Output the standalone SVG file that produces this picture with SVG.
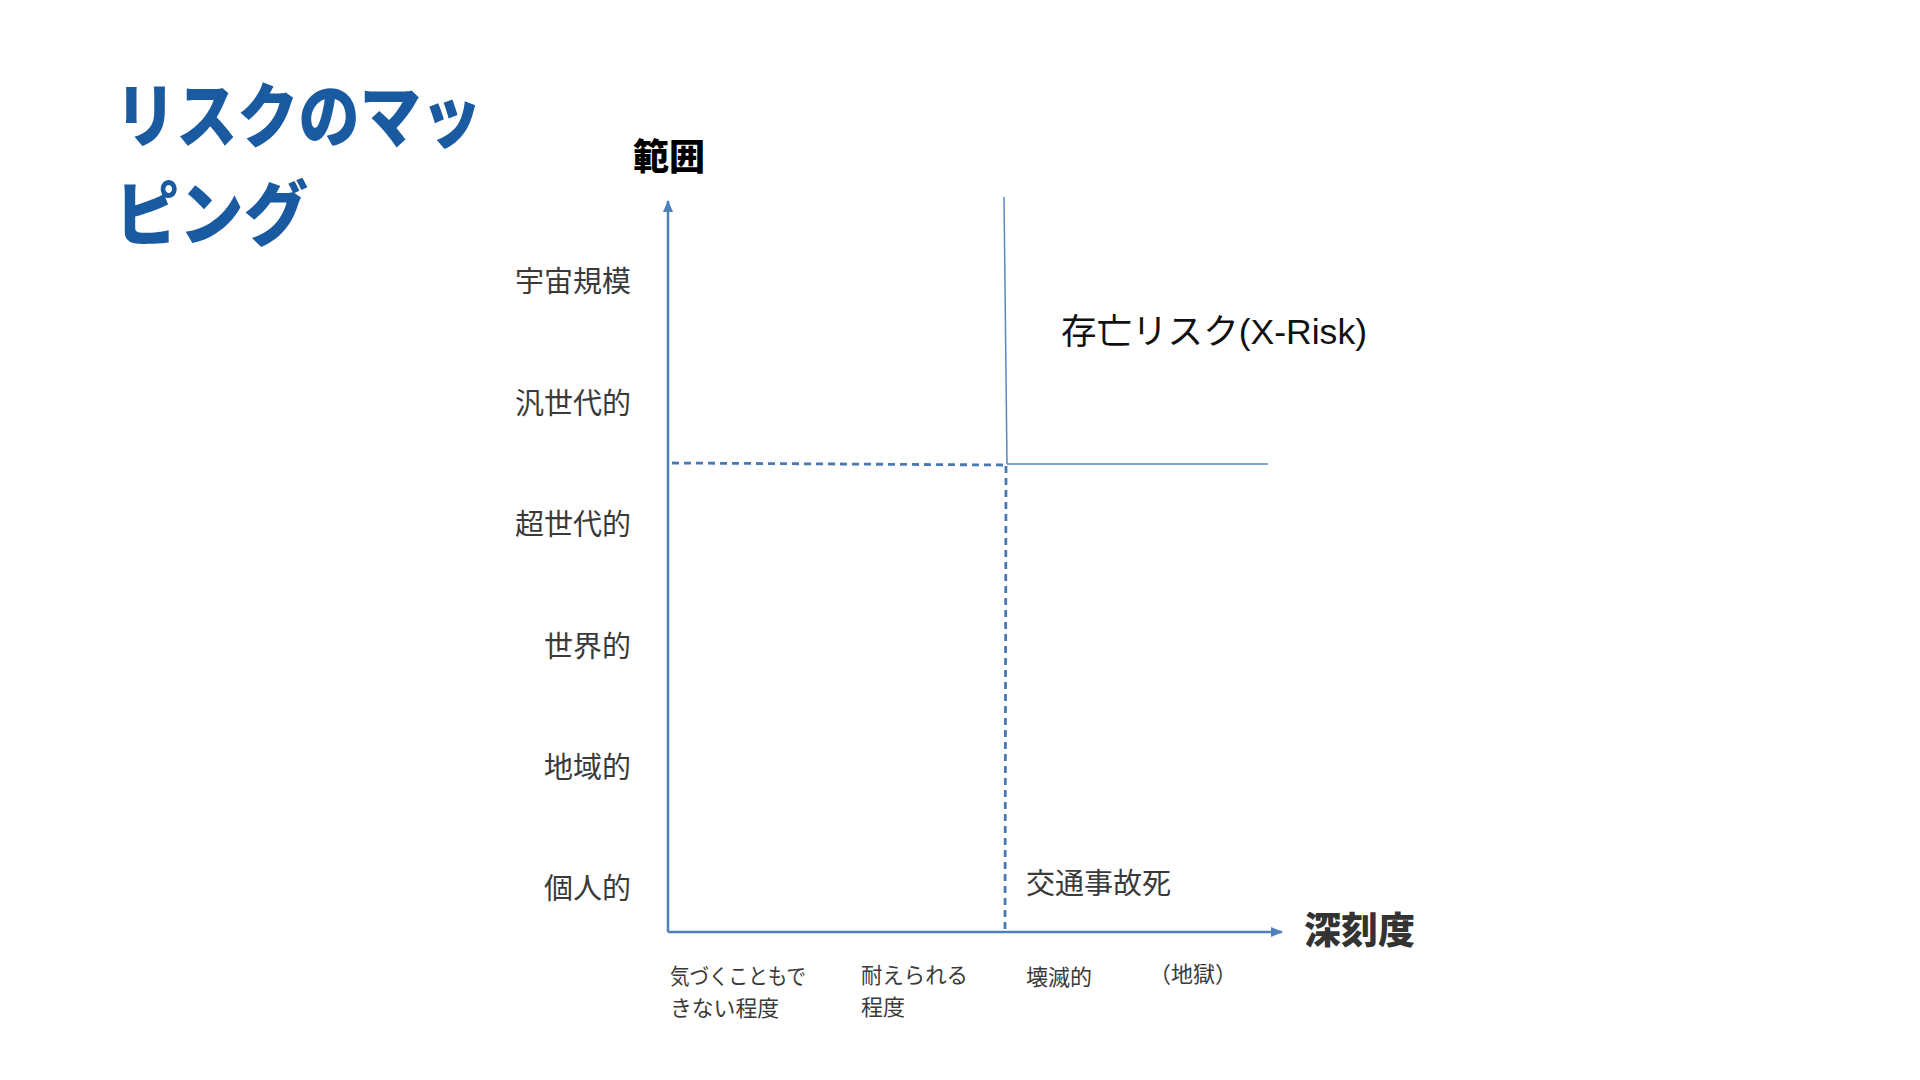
<svg xmlns="http://www.w3.org/2000/svg" width="1920" height="1080" viewBox="0 0 1920 1080">
<style>
text { font-family: "Liberation Sans", "Noto Sans CJK JP", sans-serif; }
.title { font-family: "Noto Sans CJK JP", sans-serif; font-size: 70px; font-weight: 900; fill: #1a5aa0; }
.axisname { font-family: "Noto Sans CJK JP", sans-serif; font-weight: 900; }
.lbl { font-family: "Noto Sans CJK JP", sans-serif; font-size: 29px; fill: #3a3a3a; }
.sm { font-family: "Noto Sans CJK JP", sans-serif; font-size: 22px; fill: #3a3a3a; }
.axis { stroke: #4f81bd; stroke-width: 2.5; fill: none; }
.thin { stroke: #5b87c0; stroke-width: 1.5; fill: none; }
.dash { stroke: #4a78b2; stroke-width: 2.8; stroke-dasharray: 7 5; fill: none; }
</style>
<defs>
<marker id="arr" viewBox="0 0 12 10" refX="11" refY="5" markerWidth="13" markerHeight="10" markerUnits="userSpaceOnUse" orient="auto">
<path d="M0,0 L12,5 L0,10 Z" fill="#4f81bd"/>
</marker>
</defs>
<rect width="1920" height="1080" fill="#ffffff"/>

<g id="title">
<text class="title" x="115" y="142" textLength="367" lengthAdjust="spacingAndGlyphs">リスクのマッ</text>
<text class="title" x="115" y="240" textLength="193" lengthAdjust="spacingAndGlyphs">ピング</text>
</g>

<g id="connectors">
<line class="axis" x1="668" y1="932" x2="668" y2="201" marker-end="url(#arr)"/>
<line class="axis" x1="668" y1="932" x2="1282" y2="932" marker-end="url(#arr)"/>
<line class="thin" x1="1004" y1="197" x2="1007" y2="464"/>
<line class="thin" x1="1007" y1="464" x2="1268" y2="464"/>
<line class="dash" x1="672" y1="463" x2="1005" y2="465"/>
<line class="dash" x1="1006" y1="466" x2="1005" y2="932"/>
</g>

<g id="y-axis-title">
<text class="axisname" x="633" y="170" font-size="36" fill="#000000">範囲</text>
</g>
<g id="x-axis-title">
<text class="axisname" x="1304" y="944" font-size="37" fill="#333333">深刻度</text>
</g>

<g id="y-labels">
<text class="lbl" x="631" y="292" text-anchor="end">宇宙規模</text>
<text class="lbl" x="631" y="414" text-anchor="end">汎世代的</text>
<text class="lbl" x="631" y="535" text-anchor="end">超世代的</text>
<text class="lbl" x="631" y="657" text-anchor="end">世界的</text>
<text class="lbl" x="631" y="778" text-anchor="end">地域的</text>
<text class="lbl" x="631" y="899" text-anchor="end">個人的</text>
</g>

<g id="x-labels">
<text class="sm" x="670" y="984" textLength="136" lengthAdjust="spacingAndGlyphs">気づくこともで</text>
<text class="sm" x="670" y="1016" textLength="109" lengthAdjust="spacingAndGlyphs">きない程度</text>
<text class="sm" x="861" y="983" textLength="107" lengthAdjust="spacingAndGlyphs">耐えられる</text>
<text class="sm" x="861" y="1015">程度</text>
<text class="sm" x="1026" y="985" font-size="23">壊滅的</text>
<text class="sm" x="1149" y="982" font-size="23">（地獄）</text>
</g>

<g id="xrisk">
<text x="1061" y="344" font-size="35" fill="#111111" textLength="306" lengthAdjust="spacingAndGlyphs">存亡リスク(X-Risk)</text>
</g>

<g id="traffic">
<text class="lbl" x="1026" y="894">交通事故死</text>
</g>
</svg>
